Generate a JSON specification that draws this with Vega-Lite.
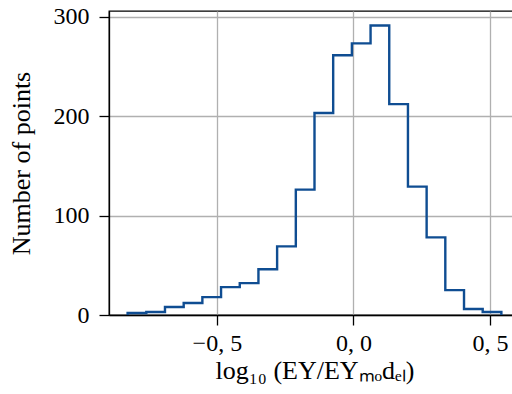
{
  "$schema": "https://vega.github.io/schema/vega-lite/v6.json",
  "width": 411,
  "height": 304,
  "autosize": "none",
  "padding": {"left": 109, "top": 11, "right": 0, "bottom": 79},
  "config": {
    "font": "Liberation Serif",
    "view": {"stroke": "#000000", "strokeWidth": 1.3},
    "axis": {
      "labelFont": "Liberation Serif",
      "titleFont": "Liberation Serif",
      "labelFontSize": 24,
      "titleFontSize": 26,
      "titleFontWeight": "normal",
      "labelColor": "#000000",
      "titleColor": "#000000",
      "domainColor": "#000000",
      "domainWidth": 1.3,
      "tickColor": "#000000",
      "tickWidth": 1.3,
      "tickSize": 10,
      "gridColor": "#b0b0b0",
      "gridWidth": 1.3
    }
  },
  "data": {
    "values": [
      {"i": 0, "x": -0.8268, "n": 0},
      {"i": 1, "x": -0.8268, "n": 2},
      {"i": 2, "x": -0.7584, "n": 3},
      {"i": 3, "x": -0.6900, "n": 8},
      {"i": 4, "x": -0.6215, "n": 12},
      {"i": 5, "x": -0.5531, "n": 18},
      {"i": 6, "x": -0.4847, "n": 28},
      {"i": 7, "x": -0.4162, "n": 32},
      {"i": 8, "x": -0.3478, "n": 46},
      {"i": 9, "x": -0.2794, "n": 69},
      {"i": 10, "x": -0.2109, "n": 126},
      {"i": 11, "x": -0.1425, "n": 203},
      {"i": 12, "x": -0.0741, "n": 261},
      {"i": 13, "x": -0.0056, "n": 273},
      {"i": 14, "x": 0.0628, "n": 291},
      {"i": 15, "x": 0.1312, "n": 212},
      {"i": 16, "x": 0.1997, "n": 129},
      {"i": 17, "x": 0.2681, "n": 78},
      {"i": 18, "x": 0.3365, "n": 25},
      {"i": 19, "x": 0.4050, "n": 6},
      {"i": 20, "x": 0.4734, "n": 3},
      {"i": 21, "x": 0.5418, "n": 3},
      {"i": 22, "x": 0.5418, "n": 0}
    ]
  },
  "mark": {"type": "line", "interpolate": "step-after", "color": "#0f4d92", "strokeWidth": 2.4, "clip": true},
  "encoding": {
    "x": {
      "field": "x",
      "type": "quantitative",
      "scale": {"domain": [-0.895, 0.61], "nice": false, "zero": false},
      "axis": {
        "values": [-0.5, 0, 0.5],
        "format": ".1f",
        "labelExpr": "replace(datum.label, '.', ', ')",
        "labelPadding": 6,
        "title": "log₁₀ (EY/EYₘₒdₑₗ)",
        "titlePadding": 2
      }
    },
    "y": {
      "field": "n",
      "type": "quantitative",
      "scale": {"domain": [0, 305.55], "nice": false},
      "axis": {
        "values": [0, 100, 200, 300],
        "labelPadding": 10,
        "title": "Number of points",
        "titlePadding": 19
      }
    },
    "order": {"field": "i", "type": "quantitative"}
  }
}
